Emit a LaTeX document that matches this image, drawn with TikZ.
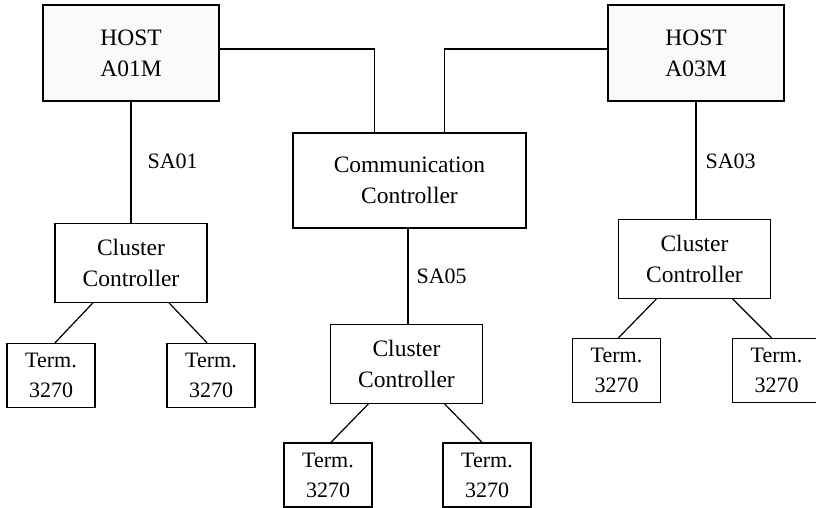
\documentclass[tikz,border=0pt]{standalone}
\usepackage{fontspec}
\setmainfont{Liberation Serif}
\usepackage{tikz}
\usetikzlibrary{positioning}

\begin{document}
\begin{tikzpicture}[
  x=1pt,y=-1pt,
  line width=1.2pt,
  box/.style={draw,align=center,inner sep=2pt,font=\fontsize{23.5}{31}\selectfont},
  hostbox/.style={box,fill=gray!4,minimum width=176pt,minimum height=96pt},
  ctrlbox/.style={box,minimum width=152pt,minimum height=79pt},
  termbox/.style={box,minimum width=88pt,minimum height=64pt,font=\fontsize{22}{30}\selectfont},
  sa/.style={anchor=west,inner sep=0pt,font=\fontsize{22}{26}\selectfont}
]
  \useasboundingbox (0,0) rectangle (816,507);
  \node[hostbox] (hostA) at (131,53) {HOST\\A01M};
  \node[hostbox] (hostB) at (696,53) {HOST\\A03M};
  \node[box,minimum width=233pt,minimum height=95pt] (comm) at (409.5,180.5) {Communication\\Controller};
  \node[ctrlbox,below=121pt of hostA] (ccA) {Cluster\\Controller};
  \node[ctrlbox,below=117pt of hostB,xshift=-1.5pt] (ccB) {Cluster\\Controller};
  \node[ctrlbox,below=95pt of comm,xshift=-3pt] (ccC) {Cluster\\Controller};
  \node[termbox,below=40pt of ccA,xshift=-80pt] (tA1) {Term.\\3270};
  \node[termbox,below=40pt of ccA,xshift=80pt] (tA2) {Term.\\3270};
  \node[termbox,below=39pt of ccB,xshift=-78pt] (tB1) {Term.\\3270};
  \node[termbox,below=39pt of ccB,xshift=82pt] (tB2) {Term.\\3270};
  \node[termbox,below=38.5pt of ccC,xshift=-78.5pt] (tC1) {Term.\\3270};
  \node[termbox,below=38.5pt of ccC,xshift=80.5pt] (tC2) {Term.\\3270};
  % host links
  \draw ([yshift=4pt]hostA.east) -| ([xshift=-35pt]comm.north);
  \draw ([yshift=4pt]hostB.west) -| ([xshift=35pt]comm.north);
  \draw (hostA.south) -- (ccA.north);
  \draw (hostB.south) -- (hostB.south |- ccB.north);
  \draw ([xshift=-1.5pt]comm.south) -- ([xshift=-1.5pt]comm.south |- ccC.north);
  \node[sa] (saA) at (147,161) {SA01};
  \node[sa] (saB) at (705,161) {SA03};
  \node[sa] (saC) at (416,276) {SA05};
  % terminals
  \draw ([xshift=-38pt]ccA.south) -- ([xshift=4pt]tA1.north);
  \draw ([xshift=38pt]ccA.south) -- ([xshift=-4pt]tA2.north);
  \draw ([xshift=-38pt]ccB.south) -- ([xshift=2pt]tB1.north);
  \draw ([xshift=38pt]ccB.south) -- ([xshift=-5pt]tB2.north);
  \draw ([xshift=-38pt]ccC.south) -- ([xshift=3pt]tC1.north);
  \draw ([xshift=38pt]ccC.south) -- ([xshift=-5pt]tC2.north);
\end{tikzpicture}
\end{document}
